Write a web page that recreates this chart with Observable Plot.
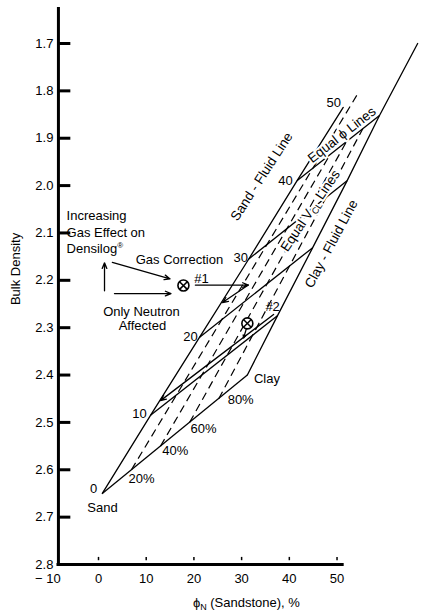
<!DOCTYPE html>
<html><head><meta charset="utf-8">
<script src="https://cdn.jsdelivr.net/npm/d3@7"></script>
<script src="https://cdn.jsdelivr.net/npm/@observablehq/plot@0.6"></script>
<style>body{margin:0;background:#fff} svg{display:block}</style>
</head><body><div id="chart"></div>
<script>
// ---- data ----
const yTicks = [1.7, 1.8, 1.9, 2.0, 2.1, 2.2, 2.3, 2.4, 2.5, 2.6, 2.7, 2.8];
const xTicks = [-10, 0, 10, 20, 30, 40, 50];
const xTickMarks = [0, 10, 20, 30, 40, 50];

// Sand - fluid line (porosity marks 0..50)
const sandLine = [
  {phi: 0,  x: 0.8,  y: 2.65},
  {phi: 10, x: 10.9, y: 2.485},
  {phi: 20, x: 21.2, y: 2.32},
  {phi: 30, x: 31.5, y: 2.155},
  {phi: 40, x: 41.6, y: 1.99},
  {phi: 50, x: 51.3, y: 1.835}
];
// Clay - fluid line (points where equal-porosity lines meet it)
const clayLine = [
  {phi: 0,  x: 31.2, y: 2.40},
  {phi: 10, x: 37.5, y: 2.275},
  {phi: 20, x: 44.9, y: 2.131},
  {phi: 30, x: 52.1, y: 1.99},
  {phi: 40, x: 58.9, y: 1.852},
  {phi: 50, x: 66.9, y: 1.70}
];
const phiLevels = [0, 10, 20, 30, 40];
// Equal Vcl lines (dashed): start on sand-clay line, end at top
const vclLines = [
  {v: 20, x1: 6.9,  y1: 2.60, x2: 54.4, y2: 1.805},
  {v: 40, x1: 13.0, y1: 2.55, x2: 48.5, y2: 1.935},
  {v: 60, x1: 19.1, y1: 2.50, x2: 52.0, y2: 1.907},
  {v: 80, x1: 25.2, y1: 2.45, x2: 55.4, y2: 1.88}
];
// Gas-effect example points
const gasPoints = [
  {name: "#1", x: 17.8, y: 2.211},
  {name: "#2", x: 31.2, y: 2.291}
];
const arrows = [
  {x1: 1.26, y1: 2.222, x2: 1.26, y2: 2.163},
  {x1: 2.9,  y1: 2.162, x2: 15.0, y2: 2.197},
  {x1: 3.35, y1: 2.228, x2: 15.2, y2: 2.228},
  {x1: 20.3, y1: 2.210, x2: 31.4, y2: 2.210},
  {x1: 31.4, y1: 2.210, x2: 26.0, y2: 2.247},
  {x1: 31.0, y1: 2.302, x2: 30.4, y2: 2.322},
  {x1: 36.7, y1: 2.272, x2: 13.0, y2: 2.454}
];
const centerLabels = [
  {text: "0", x: -1.05, y: 2.64},
  {text: "Sand", x: 0.84, y: 2.68},
  {text: "10", x: 8.6, y: 2.481},
  {text: "20", x: 19.3, y: 2.319},
  {text: "30", x: 29.8, y: 2.152},
  {text: "40", x: 39.2, y: 1.989},
  {text: "50", x: 49.3, y: 1.826},
  {text: "20%", x: 9.0, y: 2.62},
  {text: "40%", x: 16.1, y: 2.559},
  {text: "60%", x: 22.0, y: 2.513},
  {text: "80%", x: 29.8, y: 2.452},
  {text: "Clay", x: 35.3, y: 2.407},
  {text: "#2", x: 36.5, y: 2.257},
  {text: "#1", x: 21.6, y: 2.197},
  {text: "Only Neutron", x: 9.0, y: 2.266},
  {text: "Affected", x: 9.2, y: 2.296}
];
const leftLabels = [
  {text: "Increasing", x: -6.7, y: 2.063},
  {text: "Gas Effect on", x: -6.7, y: 2.099},
  {text: "Densilog®", x: -6.7, y: 2.133},
  {text: "Gas Correction", x: 7.8, y: 2.157}
];
const lineLabels = [
  {text: "Sand - Fluid Line", x: 34.2, y: 1.981, angle: -57},
  {text: "Equal ϕ Lines", x: 51.0, y: 1.893, angle: -38},
  {text: "Equal V_CL Lines", x: 44.4, y: 2.053, angle: -56},
  {text: "Clay - Fluid Line", x: 48.8, y: 2.123, angle: -62}
];

// ---- build ----
const F = "Liberation Sans, Arial, Helvetica, sans-serif";
const phiLinks = phiLevels.map(p => {
  const s = sandLine.find(d => d.phi === p), c = clayLine.find(d => d.phi === p);
  return {x1: s.x, y1: s.y, x2: c.x, y2: c.y};
});
const AX = -8.4, AY = 2.8;
const fmtX = d => d < 0 ? "− " + Math.abs(d) : String(d);

const plot = Plot.plot({
  width: 422, height: 613,
  x: {domain: [-10, 68], range: [50.3, 422.4], axis: null},
  y: {domain: [1.7, 2.8], range: [43, 564], axis: null},
  style: {fontFamily: F, background: "#fff"},
  marks: [
    // grid lines
    Plot.line(sandLine, {x: "x", y: "y", strokeWidth: 1.3}),
    Plot.line(clayLine, {x: "x", y: "y", strokeWidth: 1.3}),
    Plot.link(phiLinks, {x1: "x1", y1: "y1", x2: "x2", y2: "y2", strokeWidth: 1.3}),
    Plot.link(vclLines, {x1: "x1", y1: "y1", x2: "x2", y2: "y2", strokeWidth: 1.2, strokeDasharray: "8,5"}),
    // axes
    Plot.ruleX([AX], {y1: 1.624, y2: 2.803, strokeWidth: 3}),
    Plot.ruleY([AY], {x1: AX - 0.3, x2: 51.5, strokeWidth: 3}),
    Plot.ruleY(yTicks.filter(d => d < 2.8), {y: d => d, x1: AX, x2: -5.8, strokeWidth: 3}),
    Plot.text(yTicks, {x: AX, y: d => d, text: d => d.toFixed(1), textAnchor: "end", dx: -5, fontSize: 13}),
    Plot.ruleX(xTickMarks, {x: d => d, y1: 2.785, y2: 2.792, strokeWidth: 1.5}),
    Plot.text(xTicks.filter(d => d >= 0), {x: d => d, y: AY, dy: 14, text: fmtX, fontSize: 13}),
    Plot.text(xTicks.filter(d => d < 0), {x: d => d, y: AY, dy: 14, dx: -3, text: fmtX, fontSize: 13}),
    Plot.text(["Bulk Density"], {x: -17.4, y: 2.176, text: d => d, rotate: -90, fontSize: 13}),
    Plot.text(["ϕ_N (Sandstone), %"], {x: 31.0, y: 2.880, text: d => d, fontSize: 13}),
    // arrows & gas points
    Plot.arrow(arrows, {x1: "x1", y1: "y1", x2: "x2", y2: "y2", strokeWidth: 1.3, headLength: 7, headAngle: 45}),
    Plot.dot(gasPoints, {x: "x", y: "y", r: 5.5, stroke: "black", strokeWidth: 1.6, fill: "white"}),
    Plot.dot(gasPoints, {x: "x", y: "y", r: 3.6, symbol: "times", stroke: "black", strokeWidth: 1.5}),
    // labels
    Plot.text(centerLabels, {x: "x", y: "y", text: "text", fontSize: 13}),
    Plot.text(leftLabels, {x: "x", y: "y", text: "text", textAnchor: "start", fontSize: 13}),
    Plot.text(lineLabels, {x: "x", y: "y", text: "text", rotate: "angle", fontSize: 13.5, fill: "black", stroke: "white", strokeWidth: 4})
  ]
});

// subscripts / superscripts
plot.querySelectorAll("text").forEach(t => {
  const s = t.textContent;
  if (s === "Equal V_CL Lines") t.innerHTML = 'Equal V<tspan font-size="9" dy="3">CL</tspan><tspan dy="-3"> Lines</tspan>';
  else if (s === "ϕ_N (Sandstone), %") t.innerHTML = 'ϕ<tspan font-size="9" dy="3">N</tspan><tspan dy="-3"> (Sandstone), %</tspan>';
  else if (s === "Densilog®") t.innerHTML = 'Densilog<tspan font-size="8" dy="-5">®</tspan>';
});
document.getElementById("chart").appendChild(plot);
</script>
</body></html>
